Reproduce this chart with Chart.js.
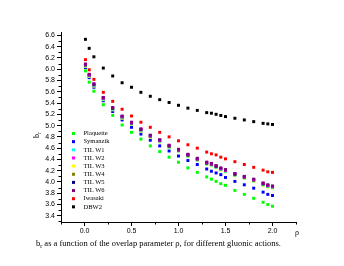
<!DOCTYPE html>
<html><head><meta charset="utf-8">
<script src="https://cdn.jsdelivr.net/npm/chart.js@4/dist/chart.umd.min.js"></script>
<style>html,body{margin:0;padding:0;background:#fff;}canvas{display:block;}</style>
</head><body>
<canvas id="c" width="344" height="266"></canvas>
<script>
const rho = [0.01,0.05,0.1,0.2,0.3,0.4,0.5,0.6,0.7,0.8,0.9,1.0,1.1,1.2,1.3,1.35,1.4,1.45,1.5,1.6,1.7,1.8,1.9,1.95,2.0];
const plaquette = [5.97,5.77,5.61,5.37,5.18,5.01,4.88,4.76,4.64,4.54,4.44,4.35,4.25,4.17,4.09,4.05,4.01,3.97,3.94,3.85,3.78,3.71,3.64,3.60,3.57];
const symanzik  = [6.03,5.85,5.68,5.44,5.25,5.10,4.97,4.85,4.74,4.64,4.55,4.46,4.38,4.31,4.23,4.19,4.16,4.13,4.08,4.01,3.95,3.89,3.82,3.78,3.76];
const tilW1 = [6.06,5.88,5.71,5.47,5.29,5.14,5.03,4.91,4.80,4.72,4.62,4.55,4.46,4.39,4.32,4.30,4.26,4.22,4.19,4.12,4.07,4.02,3.95,3.92,3.90];
const tilW2 = [6.09,5.90,5.74,5.49,5.32,5.16,5.05,4.94,4.82,4.74,4.65,4.57,4.49,4.41,4.35,4.32,4.29,4.24,4.21,4.15,4.09,4.04,3.98,3.94,3.92];
const tilW3 = [6.05,5.87,5.70,5.46,5.28,5.13,5.02,4.90,4.79,4.71,4.61,4.54,4.45,4.38,4.31,4.29,4.25,4.21,4.18,4.11,4.06,4.01,3.94,3.91,3.89];
const tilW4 = [6.07,5.89,5.72,5.48,5.30,5.15,5.04,4.92,4.81,4.73,4.63,4.56,4.47,4.40,4.33,4.31,4.27,4.23,4.20,4.13,4.08,4.03,3.96,3.93,3.91];
const tilW5 = [6.08,5.90,5.73,5.49,5.31,5.16,5.05,4.93,4.82,4.74,4.64,4.57,4.48,4.41,4.34,4.32,4.28,4.24,4.21,4.14,4.09,4.04,3.97,3.94,3.92];
const tilW6 = [6.09,5.91,5.74,5.50,5.32,5.17,5.06,4.94,4.83,4.75,4.65,4.58,4.49,4.42,4.35,4.33,4.29,4.25,4.22,4.15,4.10,4.05,3.98,3.95,3.93];
const iwasaki = [6.17,5.99,5.82,5.59,5.43,5.29,5.17,5.06,4.97,4.88,4.80,4.73,4.66,4.60,4.53,4.50,4.48,4.44,4.41,4.36,4.31,4.26,4.21,4.18,4.17];
const dbw2    = [6.53,6.37,6.22,6.02,5.88,5.76,5.68,5.59,5.52,5.46,5.41,5.36,5.31,5.27,5.23,5.22,5.20,5.18,5.16,5.13,5.10,5.07,5.04,5.03,5.02];

const seriesLabels = ['Plaquette','Symanzik','TILW1','TILW2','TILW3','TILW4','TILW5','TILW6','Iwasaki','DBW2'];
const seriesValues = [plaquette,symanzik,tilW1,tilW2,tilW3,tilW4,tilW5,tilW6,iwasaki,dbw2];
const seriesColors = ['#00ff00','#0000ff','#00ffff','#ff00ff','#ffff00','#808000','#000080','#800080','#ff0000','#000000'];
const drawOrder = [9,8,6,3,7,5,4,2,1,0];

const xTickValues = [0,0.5,1.0,1.5,2.0];
const xTickLabels = ['0.0','0.5','1.0','1.5','2.0'];
const xMinorValues = [-0.25,0.25,0.75,1.25,1.75,2.25];
const yTickValues = [3.4,3.6,3.8,4.0,4.2,4.4,4.6,4.8,5.0,5.2,5.4,5.6,5.8,6.0,6.2,6.4,6.6];
const yTickLabels = ['3.4','3.6','3.8','4.0','4.2','4.4','4.6','4.8','5.0','5.2','5.4','5.6','5.8','6.0','6.2','6.4','6.6'];
const yMinorValues = [3.3,3.5,3.7,3.9,4.1,4.3,4.5,4.7,4.9,5.1,5.3,5.5,5.7,5.9,6.1,6.3,6.5];

const captionMain = ' as a function of the overlap parameter \u03c1, for different gluonic actions.';
const xAxisTitle = '\u03c1';

const datasets = seriesLabels.map((lab,i)=>({
  label: lab,
  data: rho.map((x,j)=>({x:x, y:seriesValues[i][j]})),
  backgroundColor: seriesColors[i],
  borderColor: seriesColors[i],
  borderWidth: 0,
  pointStyle: 'rect',
  pointRadius: 2.1,
  showLine: false,
  order: drawOrder[i]
}));

const serif = '"Liberation Serif", "Times New Roman", serif';
const sans = '"Liberation Sans", Arial, sans-serif';

const overlay = {
  id: 'overlay',
  afterDraw(chart){
    const ctx = chart.ctx, xs = chart.scales.x, ys = chart.scales.y;
    ctx.save();
    ctx.strokeStyle = '#000'; ctx.lineWidth = 1;
    xMinorValues.forEach(v=>{
      const px = Math.round(xs.getPixelForValue(v)) + 0.5;
      ctx.beginPath(); ctx.moveTo(px, ys.bottom); ctx.lineTo(px, ys.bottom + 2.5); ctx.stroke();
    });
    yMinorValues.forEach(v=>{
      const py = Math.round(ys.getPixelForValue(v)) + 0.5;
      ctx.beginPath(); ctx.moveTo(xs.left, py); ctx.lineTo(xs.left - 2.5, py); ctx.stroke();
    });
    // legend
    ctx.font = '6.5px ' + serif;
    ctx.textBaseline = 'middle'; ctx.textAlign = 'left';
    seriesLabels.forEach((lab,i)=>{
      const y = 133.5 + i * 8.15;
      ctx.fillStyle = seriesColors[i];
      ctx.fillRect(72, y - 1.5, 3, 3);
      ctx.fillStyle = '#000';
      ctx.fillText(lab.replace('TILW','TIL W'), 83.5, y);
    });
    // x axis title
    ctx.font = '8px ' + serif;
    ctx.textAlign = 'center';
    ctx.fillText(xAxisTitle, 297, 233);
    // y axis title b_r rotated
    ctx.save();
    ctx.translate(37, 134);
    ctx.rotate(-Math.PI/2);
    ctx.font = '8px ' + serif; ctx.textAlign = 'left'; ctx.textBaseline = 'alphabetic';
    ctx.fillText('b', -4, 2);
    const bw = ctx.measureText('b').width;
    ctx.font = '5.5px ' + serif;
    ctx.fillText('r', -4 + bw, 4);
    ctx.restore();
    // caption
    ctx.font = '8.5px ' + serif; ctx.textAlign = 'left'; ctx.textBaseline = 'middle';
    let cx = 36; const cy = 244;
    ctx.fillText('b', cx, cy); cx += ctx.measureText('b').width;
    ctx.font = '6px ' + serif; ctx.fillText('r', cx, cy + 2.5); cx += ctx.measureText('r').width;
    ctx.font = '8.5px ' + serif; ctx.fillText(captionMain, cx, cy);
    ctx.restore();
  }
};

new Chart(document.getElementById('c'), {
  type: 'scatter',
  data: { datasets },
  options: {
    responsive: false,
    animation: false,
    layout: { padding: { left: 0, top: 32, right: 48, bottom: 0 } },
    plugins: { legend: { display: false }, tooltip: { enabled: false } },
    scales: {
      x: {
        type: 'linear', min: -0.25, max: 2.25,
        afterBuildTicks: s => { s.ticks = xTickValues.map(v=>({value:v})); },
        afterFit: s => { s.height = 44; },
        ticks: { callback: (v,i) => xTickLabels[i], font: { family: sans, size: 7 }, color: '#000', padding: 1, maxRotation: 0 },
        grid: { display: true, drawOnChartArea: false, drawTicks: true, tickLength: 4, color: '#000' },
        border: { display: true, color: '#000', width: 1 }
      },
      y: {
        type: 'linear', min: 3.29, max: 6.66,
        afterBuildTicks: s => { s.ticks = yTickValues.map(v=>({value:v})); },
        afterFit: s => { s.width = 61; },
        ticks: { callback: (v,i) => yTickLabels[i], font: { family: sans, size: 7 }, color: '#000', padding: 2 },
        grid: { display: true, drawOnChartArea: false, drawTicks: true, tickLength: 4, color: '#000' },
        border: { display: true, color: '#000', width: 1 }
      }
    }
  },
  plugins: [overlay]
});
</script>
</body></html>
